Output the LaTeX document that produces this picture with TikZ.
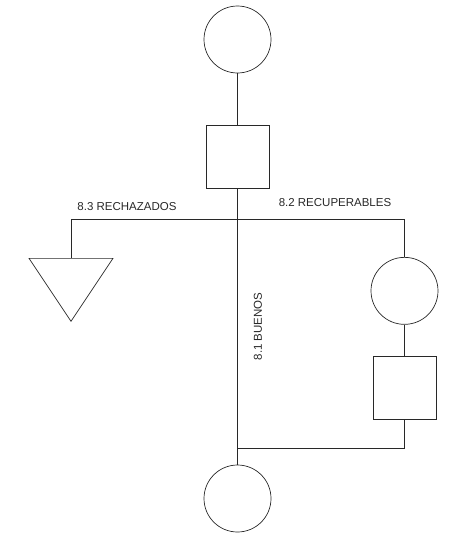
\documentclass[tikz,border=0pt]{standalone}
\usepackage{fontspec}
\setmainfont{Liberation Sans}
\usetikzlibrary{positioning,shapes.geometric}
\definecolor{lineaGris}{RGB}{40,40,40}

\begin{document}
\begin{tikzpicture}[
  x=1pt, y=-1pt,
  lineaGris,
  line width=0.7pt,
  operacion/.style={
    draw,
    circle,
    minimum size=67pt,
    inner sep=0pt
  },
  inspeccion/.style={
    draw,
    minimum size=63pt,
    inner sep=0pt
  },
  almacen/.style={
    draw,
    isosceles triangle,
    isosceles triangle stretches,
    shape border rotate=-90,
    minimum width=84pt,
    minimum height=63pt,
    inner sep=0pt
  },
  etiqueta/.style={font=\fontsize{11.5}{13}\selectfont, inner sep=0pt}
]
  \useasboundingbox (0,0) rectangle (471,538);
  % linea principal
  \node[operacion] (inicio) at (237.5,39.5) {};
  \node[inspeccion,below=52pt of inicio] (revision) {};
  \coordinate (cruce) at (237.5,219);
  \coordinate (izq) at (71,219);
  \coordinate (der) at (404.5,219);
  \node[operacion] (fin) at (237.5,498.5) {};
  % ramas
  \node[almacen,anchor=north] (rechazo) at (71,258) {};
  \node[operacion,below=38pt of der] (reproceso) {};
  \node[inspeccion,below=31pt of reproceso] (reinspeccion) {};
  \coordinate (retorno) at (404.5,448);
  \coordinate (union) at (237.5,448);
  % conexiones
  \draw (inicio) -- (revision);
  \draw (revision) -- (cruce) -- (fin);
  \draw (izq) -- (der);
  \draw (izq) -- (rechazo.north);
  \draw (der) -- (reproceso);
  \draw (reproceso) -- (reinspeccion);
  \draw (reinspeccion) -- (retorno) -- (union);
  % textos
  \node[etiqueta] (tRechazo) at (127,207) {8.3 RECHAZADOS};
  \node[etiqueta] (tRecupera) at (335,203) {8.2 RECUPERABLES};
  \node[etiqueta,rotate=90] (tBuenos) at (258,326.5) {8.1 BUENOS};
\end{tikzpicture}
\end{document}
